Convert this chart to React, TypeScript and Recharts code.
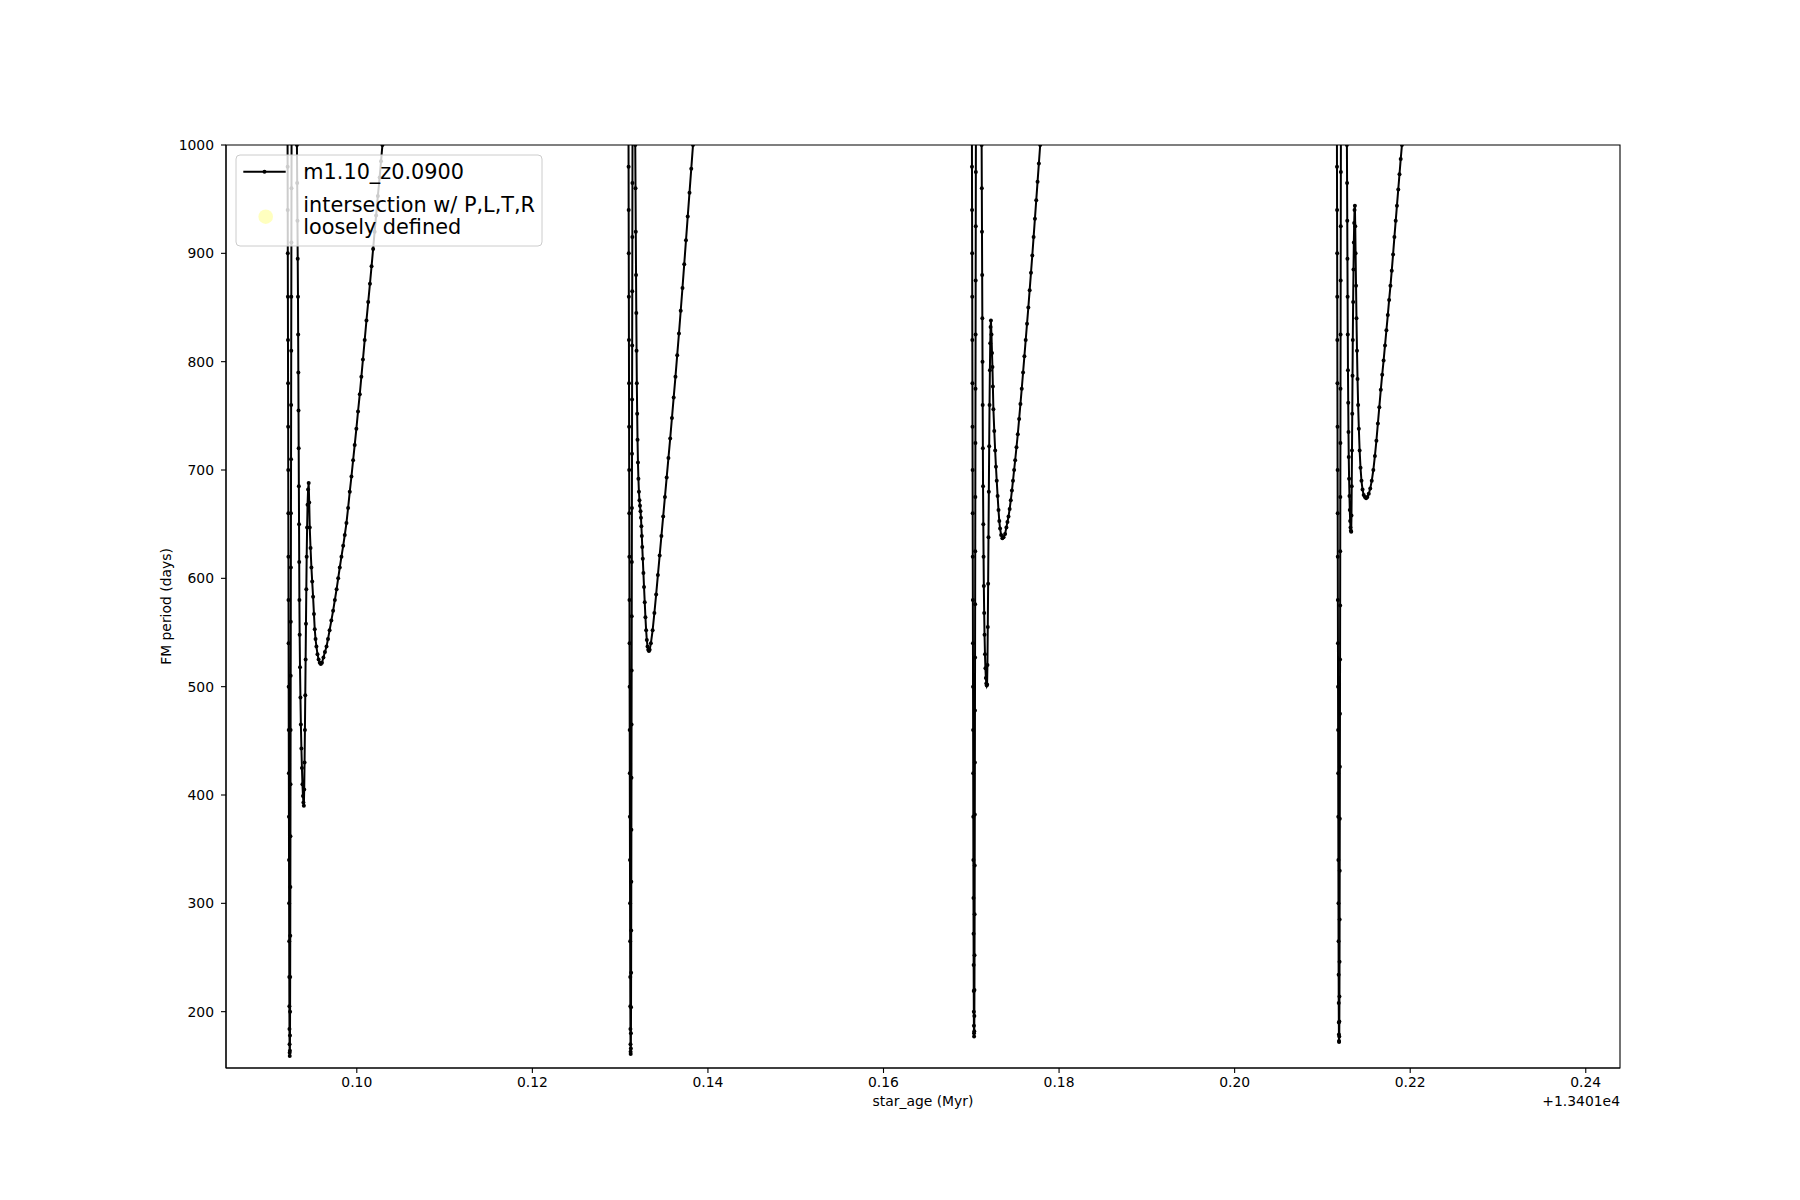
import React from "react";
import { LineChart, Line, XAxis, YAxis, ReferenceArea } from "recharts";

type Pt = [number, number];

// star_age offset (Myr) relative to 1.3401e4, FM period (days)
const episode1: Pt[] = [
  [0.09210, 1060], [0.09211, 1020], [0.09212, 980], [0.09213, 940], [0.09214, 900], [0.09215, 860], [0.09216, 820], [0.09217, 780], [0.09218, 740], [0.09219, 700], [0.09220, 660], [0.09221, 620], [0.09222, 580], [0.09223, 540], [0.09224, 500], [0.09225, 460], [0.09226, 420], [0.09227, 380], [0.09228, 340], [0.09229, 300], [0.09230, 265], [0.09231, 232], [0.09232, 205], [0.09233, 184], [0.09234, 170], [0.09235, 162], [0.09236, 159],
  [0.09238, 164], [0.09239, 178], [0.09240, 200], [0.09241, 232], [0.09242, 270], [0.09243, 315], [0.09244, 362], [0.09245, 410], [0.09246, 460], [0.09247, 510], [0.09248, 560], [0.09249, 610], [0.09250, 660], [0.09251, 710], [0.09252, 760], [0.09253, 810], [0.09254, 860], [0.09255, 910], [0.09256, 960], [0.09257, 1010], [0.09258, 1060],
  [0.09280, 1450],
  [0.09310, 1060], [0.09318, 1000], [0.09321, 965], [0.09324, 930], [0.09327, 895], [0.09330, 860], [0.09332, 825], [0.09334, 790], [0.09336, 755], [0.09338, 720], [0.09340, 685], [0.09342, 650], [0.09344, 615], [0.09346, 580], [0.09349, 548], [0.09353, 518], [0.09358, 490], [0.09363, 465], [0.09369, 443], [0.09375, 425], [0.09381, 410], [0.09387, 399], [0.09392, 393], [0.09397, 390],
  [0.09401, 405], [0.09405, 430], [0.09409, 460], [0.09413, 492], [0.09417, 525], [0.09421, 558], [0.09425, 590], [0.09429, 620], [0.09434, 647], [0.09439, 668], [0.09445, 682], [0.09452, 688],
  [0.09458, 670], [0.09464, 647], [0.09473, 628], [0.09483, 610], [0.09492, 597], [0.09502, 583], [0.09512, 567], [0.09521, 553], [0.09530, 544], [0.09540, 537], [0.09552, 530], [0.09565, 525], [0.09578, 522], [0.09590, 521], [0.09603, 522],
  [0.09620, 527], [0.09637, 532], [0.09655, 537], [0.09672, 544], [0.09690, 552], [0.09710, 561], [0.09730, 570], [0.09750, 580], [0.09770, 590], [0.09788, 600], [0.09806, 610], [0.09825, 620], [0.09845, 630], [0.09863, 640], [0.09882, 651], [0.09901, 665], [0.09920, 680], [0.09939, 694], [0.09958, 709], [0.09976, 723], [0.09995, 738], [0.10014, 754], [0.10034, 770], [0.10052, 786], [0.10070, 802], [0.10090, 820], [0.10110, 838], [0.10130, 855], [0.10150, 872], [0.10168, 888], [0.10186, 904], [0.10203, 920], [0.10220, 935], [0.10240, 953], [0.10260, 970], [0.10276, 985], [0.10292, 1000], [0.10310, 1018], [0.10330, 1036],
];

const episode2: Pt[] = [
  [0.13094, 1060], [0.13095, 1020], [0.13096, 980], [0.13097, 940], [0.13098, 900], [0.13099, 860], [0.13100, 820], [0.13101, 780], [0.13102, 740], [0.13103, 700], [0.13104, 660], [0.13105, 620], [0.13106, 580], [0.13107, 540], [0.13108, 500], [0.13109, 460], [0.13110, 420], [0.13111, 380], [0.13112, 340], [0.13113, 300], [0.13114, 265], [0.13115, 232], [0.13116, 205], [0.13117, 184], [0.13118, 170], [0.13119, 163], [0.13120, 161],
  [0.13122, 166], [0.13123, 180], [0.13124, 204], [0.13125, 236], [0.13126, 275], [0.13127, 320], [0.13128, 368], [0.13129, 416], [0.13130, 465], [0.13131, 515], [0.13132, 565], [0.13133, 615], [0.13134, 665], [0.13135, 715], [0.13136, 765], [0.13137, 815], [0.13138, 865], [0.13139, 915], [0.13140, 965], [0.13141, 1015], [0.13142, 1060],
  [0.13155, 1450],
  [0.13165, 1060], [0.13172, 1000], [0.13175, 960], [0.13178, 920], [0.13181, 880], [0.13184, 845], [0.13187, 810], [0.13190, 780], [0.13194, 752], [0.13198, 728], [0.13203, 707], [0.13208, 692], [0.13214, 680], [0.13220, 672], [0.13226, 667], [0.13232, 662], [0.13237, 656], [0.13242, 648], [0.13247, 639], [0.13252, 629], [0.13258, 618], [0.13265, 605], [0.13272, 592], [0.13280, 578], [0.13288, 564], [0.13296, 552], [0.13304, 543], [0.13312, 537], [0.13320, 534], [0.13328, 533], [0.13336, 534],
  [0.13350, 540], [0.13370, 552], [0.13390, 568], [0.13410, 585], [0.13430, 603], [0.13450, 621], [0.13470, 639], [0.13490, 657], [0.13510, 675], [0.13530, 693], [0.13550, 711], [0.13570, 729], [0.13590, 748], [0.13610, 767], [0.13630, 786], [0.13650, 806], [0.13670, 826], [0.13690, 847], [0.13710, 868], [0.13730, 890], [0.13750, 912], [0.13770, 934], [0.13790, 956], [0.13810, 978], [0.13830, 1000], [0.13850, 1022],
];

const episode3: Pt[] = [
  [0.17006, 1060], [0.17007, 1020], [0.17008, 980], [0.17009, 940], [0.17010, 900], [0.17011, 860], [0.17012, 820], [0.17013, 780], [0.17014, 740], [0.17015, 700], [0.17016, 660], [0.17017, 620], [0.17018, 580], [0.17019, 540], [0.17020, 500], [0.17021, 460], [0.17022, 420], [0.17023, 380], [0.17024, 340], [0.17025, 305], [0.17026, 272], [0.17027, 243], [0.17028, 219], [0.17029, 200], [0.17030, 187], [0.17031, 180], [0.17032, 177],
  [0.17034, 182], [0.17035, 196], [0.17036, 220], [0.17037, 252], [0.17038, 290], [0.17039, 335], [0.17040, 382], [0.17041, 430], [0.17042, 478], [0.17043, 527], [0.17044, 576], [0.17045, 625], [0.17046, 675], [0.17047, 725], [0.17048, 775], [0.17049, 825], [0.17050, 875], [0.17051, 925], [0.17052, 975], [0.17053, 1025], [0.17054, 1060],
  [0.17085, 1450],
  [0.17110, 1060], [0.17118, 1000], [0.17120, 960], [0.17122, 920], [0.17124, 880], [0.17126, 840], [0.17128, 800], [0.17130, 760], [0.17132, 720], [0.17134, 685], [0.17137, 650], [0.17140, 620], [0.17143, 593], [0.17147, 568], [0.17151, 548], [0.17156, 530], [0.17161, 517], [0.17166, 508], [0.17171, 503], [0.17176, 501], [0.17180, 502],
  [0.17184, 520], [0.17188, 555], [0.17192, 595], [0.17196, 638], [0.17200, 680], [0.17204, 722], [0.17208, 760], [0.17212, 792], [0.17216, 817], [0.17220, 832], [0.17224, 838],
  [0.17230, 825], [0.17236, 808], [0.17241, 795], [0.17246, 777], [0.17252, 756], [0.17262, 736], [0.17272, 718], [0.17281, 703], [0.17290, 690], [0.17300, 676], [0.17310, 663], [0.17319, 653], [0.17328, 646], [0.17340, 640], [0.17354, 637], [0.17368, 638],
  [0.17385, 641], [0.17400, 647], [0.17412, 652], [0.17424, 657], [0.17437, 664], [0.17450, 672], [0.17463, 681], [0.17475, 690], [0.17488, 700], [0.17500, 709], [0.17515, 721], [0.17530, 733], [0.17545, 747], [0.17560, 761], [0.17575, 775], [0.17590, 790], [0.17605, 805], [0.17620, 820], [0.17635, 835], [0.17650, 850], [0.17665, 866], [0.17680, 882], [0.17695, 898], [0.17710, 915], [0.17725, 932], [0.17740, 949], [0.17755, 966], [0.17770, 983], [0.17785, 1000], [0.17800, 1017],
];

const episode4: Pt[] = [
  [0.21164, 1060], [0.21165, 1020], [0.21166, 980], [0.21167, 940], [0.21168, 900], [0.21169, 860], [0.21170, 820], [0.21171, 780], [0.21172, 740], [0.21173, 700], [0.21174, 660], [0.21175, 620], [0.21176, 580], [0.21177, 540], [0.21178, 500], [0.21179, 460], [0.21180, 420], [0.21181, 380], [0.21182, 340], [0.21183, 300], [0.21184, 265], [0.21185, 234], [0.21186, 208], [0.21187, 190], [0.21188, 179], [0.21189, 173], [0.21190, 172],
  [0.21192, 177], [0.21193, 191], [0.21194, 214], [0.21195, 246], [0.21196, 285], [0.21197, 330], [0.21198, 378], [0.21199, 426], [0.21200, 475], [0.21201, 525], [0.21202, 575], [0.21203, 625], [0.21204, 675], [0.21205, 725], [0.21206, 775], [0.21207, 825], [0.21208, 875], [0.21209, 925], [0.21210, 975], [0.21211, 1025], [0.21212, 1060],
  [0.21245, 1450],
  [0.21270, 1060], [0.21279, 1000], [0.21281, 965], [0.21283, 930], [0.21285, 895], [0.21287, 860], [0.21289, 825], [0.21291, 792], [0.21294, 762], [0.21297, 735], [0.21300, 712], [0.21304, 692], [0.21308, 676], [0.21312, 663], [0.21316, 653], [0.21320, 647], [0.21324, 644], [0.21328, 643],
  [0.21331, 658], [0.21334, 685], [0.21337, 718], [0.21340, 752], [0.21343, 787], [0.21346, 820], [0.21350, 855], [0.21354, 885], [0.21358, 910], [0.21362, 928], [0.21366, 940], [0.21370, 944],
  [0.21374, 925], [0.21378, 900], [0.21383, 870], [0.21388, 840], [0.21394, 810], [0.21400, 784], [0.21407, 760], [0.21415, 738], [0.21424, 718], [0.21434, 702], [0.21445, 690], [0.21457, 682], [0.21470, 677], [0.21484, 675], [0.21498, 674], [0.21512, 675],
  [0.21528, 678], [0.21545, 683], [0.21562, 690], [0.21580, 700], [0.21598, 713], [0.21615, 727], [0.21632, 743], [0.21648, 758], [0.21665, 774], [0.21681, 788], [0.21697, 801], [0.21713, 815], [0.21729, 829], [0.21745, 843], [0.21760, 857], [0.21775, 870], [0.21790, 884], [0.21805, 899], [0.21820, 915], [0.21835, 930], [0.21849, 944], [0.21864, 959], [0.21878, 973], [0.21892, 987], [0.21906, 1000], [0.21920, 1014],
];

const xTicks = [0.10, 0.12, 0.14, 0.16, 0.18, 0.20, 0.22, 0.24];
const yTicks = [200, 300, 400, 500, 600, 700, 800, 900, 1000];
const xDomain: [number, number] = [0.0851, 0.2439];
const yDomain: [number, number] = [148, 1000];

const seriesName = "m1.10_z0.0900";
const intersectionLines = ["intersection w/ P,L,T,R", "loosely defined"];
const xLabel = "star_age (Myr)";
const yLabel = "FM period (days)";
const offsetText = "+1.3401e4";

const data = [...episode1, ...episode2, ...episode3, ...episode4].map(([age, period]) => ({ age, period }));

const FONT = "DejaVu Sans";
const W = 1784;
const H = 1184;

export default function App() {
  const tickStyle = { fill: "#000", fontSize: 13.9, fontFamily: FONT };
  return (
    <div style={{ position: "relative", width: W, height: H }}>
      <LineChart width={W} height={H} data={data} margin={{ top: 137, right: 172, bottom: 84, left: 158 }}>
        <XAxis
          dataKey="age"
          type="number"
          domain={xDomain}
          allowDataOverflow
          ticks={xTicks}
          interval={0}
          tickFormatter={(v: number) => v.toFixed(2)}
          tick={tickStyle}
          tickSize={5}
          tickMargin={4.5}
          height={40}
          axisLine={{ stroke: "#000", strokeWidth: 1.1 }}
          tickLine={{ stroke: "#000", strokeWidth: 1.1 }}
        />
        <YAxis
          dataKey="period"
          type="number"
          domain={yDomain}
          allowDataOverflow
          ticks={yTicks}
          interval={0}
          tick={tickStyle}
          tickSize={5}
          tickMargin={7}
          width={60}
          axisLine={{ stroke: "#000", strokeWidth: 1.1 }}
          tickLine={{ stroke: "#000", strokeWidth: 1.1 }}
        />
        <Line
          dataKey="period"
          stroke="#000"
          strokeWidth={2}
          dot={{ r: 2, fill: "#000", stroke: "none" }}
          activeDot={false}
          isAnimationActive={false}
        />
        <ReferenceArea x1={xDomain[0]} x2={xDomain[1]} y1={yDomain[0]} y2={yDomain[1]} fill="none" stroke="#000" strokeWidth={1.1} />
      </LineChart>
      <svg width={W} height={H} style={{ position: "absolute", left: 0, top: 0, pointerEvents: "none" }} fontFamily={FONT}>
        <text x={158} y={598.5} transform="rotate(-90 158 598.5)" textAnchor="middle" dominantBaseline="central" fontSize={13.9} fill="#000">{yLabel}</text>
        <text x={915} y={1098} textAnchor="middle" fontSize={13.9} fill="#000">{xLabel}</text>
        <text x={1612} y={1098} textAnchor="end" fontSize={13.9} fill="#000">{offsetText}</text>
        <g>
          <rect x={228} y={147} width={306} height={91} rx={4} ry={4} fill="#fff" fillOpacity={0.8} stroke="#cccccc" strokeWidth={1} />
          <line x1={235.3} y1={163.7} x2={277.7} y2={163.7} stroke="#000" strokeWidth={2} />
          <circle cx={256.5} cy={163.7} r={2} fill="#000" />
          <text x={295.3} y={171} fontSize={20.8} fill="#000">{seriesName}</text>
          <circle cx={257.7} cy={208.7} r={7.3} fill="#ffff00" fillOpacity={0.25} />
          <text x={295.3} y={203.6} fontSize={20.8} fill="#000">{intersectionLines[0]}</text>
          <text x={295.3} y={226} fontSize={20.8} fill="#000">{intersectionLines[1]}</text>
        </g>
      </svg>
    </div>
  );
}
